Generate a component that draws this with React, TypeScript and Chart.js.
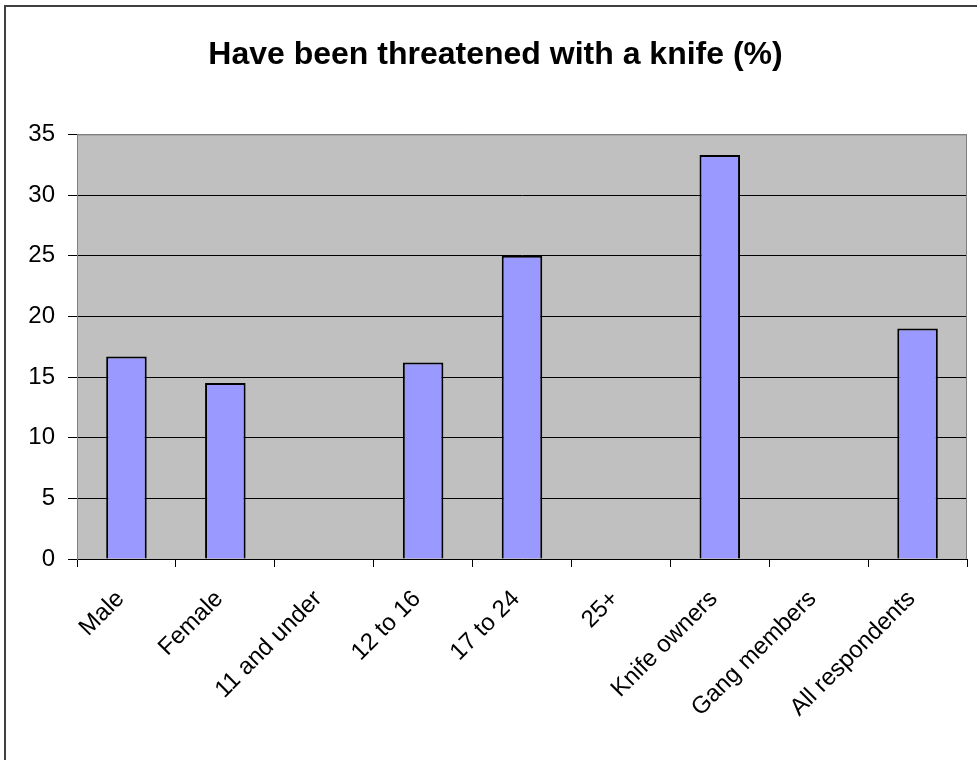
import React, { useEffect, useRef } from "react";
import { Chart, registerables } from "chart.js";

Chart.register(...registerables);

const title = "Have been threatened with a knife (%)";
const categories = [
  "Male",
  "Female",
  "11 and under",
  "12 to 16",
  "17 to 24",
  "25+",
  "Knife owners",
  "Gang members",
  "All respondents",
];
const values: (number | null)[] = [16.7, 14.5, null, 16.2, 25.0, null, 33.3, null, 19.0];
const yMin = 0;
const yMax = 35;
const yStep = 5;

const plotStyle = {
  id: "plotStyle",
  beforeDraw(chart: any) {
    const { ctx, chartArea } = chart;
    ctx.save();
    ctx.fillStyle = "#C0C0C0";
    ctx.fillRect(chartArea.left, chartArea.top, chartArea.right - chartArea.left, chartArea.bottom - chartArea.top);
    ctx.restore();
  },
  afterDraw(chart: any) {
    const { ctx, chartArea } = chart;
    ctx.save();
    ctx.strokeStyle = "#808080";
    ctx.lineWidth = 1;
    ctx.beginPath();
    ctx.moveTo(chartArea.left, chartArea.top + 0.5);
    ctx.lineTo(chartArea.right - 0.5, chartArea.top + 0.5);
    ctx.lineTo(chartArea.right - 0.5, chartArea.bottom);
    ctx.stroke();
    ctx.restore();
  },
};

export default function App() {
  const ref = useRef<HTMLCanvasElement | null>(null);
  useEffect(() => {
    document.body.style.margin = "0";
    const chart = new Chart(ref.current as HTMLCanvasElement, {
      type: "bar",
      data: {
        labels: categories,
        datasets: [
          {
            data: values,
            backgroundColor: "#9999FF",
            borderColor: "#000000",
            borderWidth: 2,
            categoryPercentage: 1,
            barPercentage: 0.41,
          },
        ],
      },
      options: {
        animation: false,
        responsive: false,
        layout: { padding: { left: 24, right: 10, top: 0, bottom: 0 } },
        plugins: {
          legend: { display: false },
          tooltip: { enabled: false },
          title: {
            display: true,
            text: title,
            color: "#000",
            font: { family: "'Liberation Sans', Arial, sans-serif", size: 32, weight: "bold" },
            padding: { top: 36, bottom: 60 },
          },
        },
        scales: {
          x: {
            grid: { display: true, drawOnChartArea: false, color: "#000", tickLength: 8, offset: true },
            border: { display: true, color: "#000", width: 1 },
            ticks: {
              color: "#000",
              font: { family: "'Liberation Sans', Arial, sans-serif", size: 24 },
              maxRotation: 45,
              minRotation: 45,
              padding: 18,
              labelOffset: -6,
              autoSkip: false,
            },
            afterFit: (s: any) => {
              s.height = 201;
            },
          },
          y: {
            min: yMin,
            max: yMax,
            ticks: {
              stepSize: yStep,
              color: "#000",
              font: { family: "'Liberation Sans', Arial, sans-serif", size: 24 },
              padding: 13,
            },
            grid: {
              color: (c: any) => (c.tick && c.tick.value === yMax ? "#808080" : "#000"),
              tickColor: "#000",
              tickLength: 9,
            },
            border: { display: true, color: "#808080", width: 1 },
            afterFit: (s: any) => {
              s.width = 53;
            },
          },
        },
      },
      plugins: [plotStyle],
    });
    return () => chart.destroy();
  }, []);
  return (
    <div style={{ position: "relative", width: 977, height: 760, background: "#fff" }}>
      <div
        style={{
          position: "absolute",
          left: 4,
          top: 5,
          width: 1000,
          height: 800,
          borderLeft: "2px solid #404040",
          borderTop: "2px solid #404040",
        }}
      />
      <canvas ref={ref} width={977} height={760} style={{ position: "absolute", left: 0, top: 0 }} />
    </div>
  );
}
